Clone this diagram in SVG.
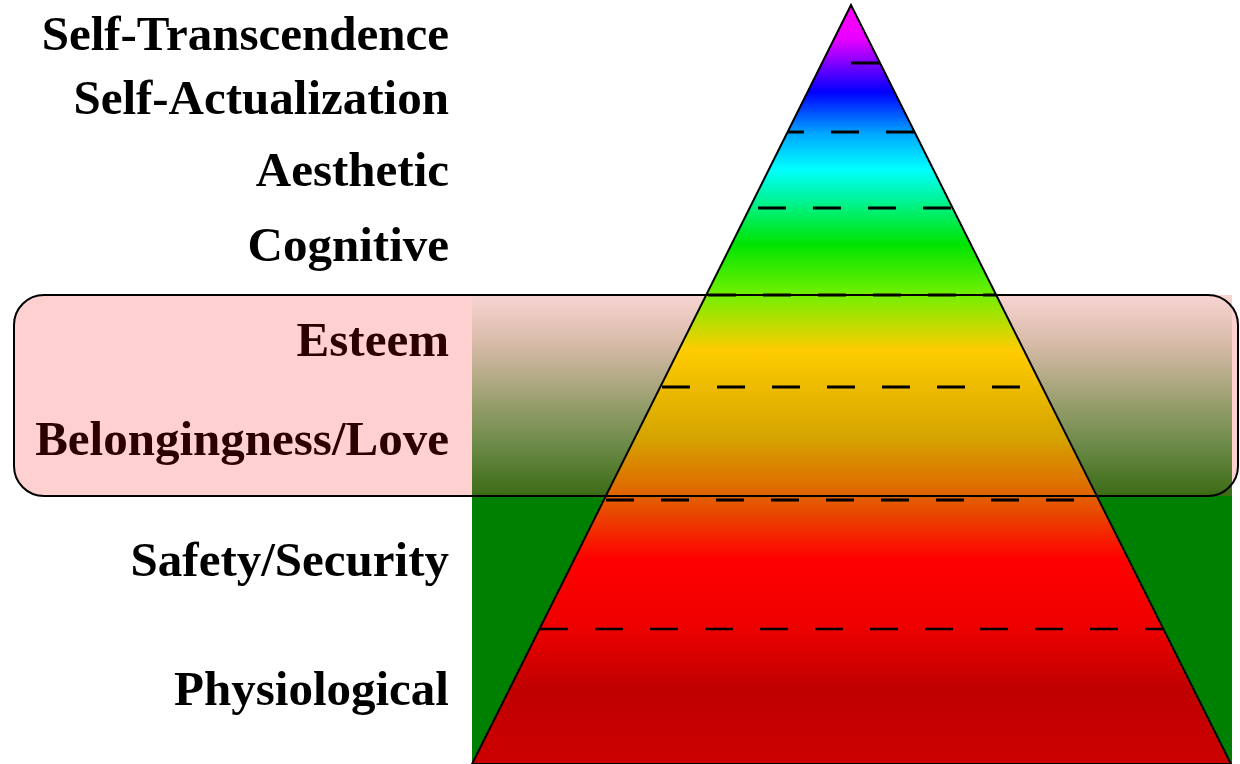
<svg xmlns="http://www.w3.org/2000/svg" width="1240" height="764" viewBox="0 0 1240 764">
  <defs>
    <linearGradient id="pyr" gradientUnits="userSpaceOnUse" x1="0" y1="5" x2="0" y2="764">
      <stop offset="0" stop-color="#FF00FF"/>
      <stop offset="0.045" stop-color="#E800FF"/>
      <stop offset="0.115" stop-color="#0000FF"/>
      <stop offset="0.17" stop-color="#00A8FF"/>
      <stop offset="0.217" stop-color="#00FFFF"/>
      <stop offset="0.315" stop-color="#00E400"/>
      <stop offset="0.38" stop-color="#70F000"/>
      <stop offset="0.455" stop-color="#FFCC00"/>
      <stop offset="0.57" stop-color="#D4A400"/>
      <stop offset="0.645" stop-color="#E06400"/>
      <stop offset="0.73" stop-color="#FF0000"/>
      <stop offset="0.82" stop-color="#EE0000"/>
      <stop offset="0.9" stop-color="#C00000"/>
      <stop offset="1" stop-color="#CC0000"/>
    </linearGradient>
    <linearGradient id="boxgreen" gradientUnits="userSpaceOnUse" x1="0" y1="295" x2="0" y2="495">
      <stop offset="0" stop-color="#F8D4D2"/>
      <stop offset="0.25" stop-color="#D6BAA6"/>
      <stop offset="0.5" stop-color="#A0A274"/>
      <stop offset="0.75" stop-color="#6C8A48"/>
      <stop offset="1" stop-color="#3C6C16"/>
    </linearGradient>
    <clipPath id="pyrclip">
      <polygon points="851,5 472,764 1231,764"/>
    </clipPath>
    <style>
      .lbl { font-family: "Liberation Serif", "Times New Roman", serif; font-weight: bold; font-size: 49px; text-anchor: end; fill: #000; }
      .lbl.in { fill: #2A0000; }
      .dash { stroke: #000; stroke-width: 3; stroke-dasharray: 28 27; fill: none; }
    </style>
  </defs>

  <rect x="0" y="0" width="1240" height="764" fill="#FFFFFF"/>

  <g id="background">
    <rect x="14" y="295" width="1224" height="201" rx="30" ry="30" fill="#FFD0D0"/>
    <rect x="472" y="295" width="760" height="201" fill="url(#boxgreen)"/>
    <rect x="472" y="496" width="760" height="268" fill="#008000"/>
  </g>

  <g id="pyramid">
    <polygon points="851,5 472,764 1231,764" fill="url(#pyr)" stroke="#000" stroke-width="2" stroke-linejoin="miter"/>
  </g>

  <g id="connectors" clip-path="url(#pyrclip)">
    <line x1="851" y1="63" x2="882" y2="63" stroke="#000" stroke-width="3"/>
    <line class="dash" x1="776" y1="132" x2="916" y2="132"/>
    <line class="dash" x1="758" y1="208" x2="954" y2="208"/>
    <line class="dash" x1="708" y1="295" x2="998" y2="295"/>
    <line class="dash" x1="662" y1="387" x2="1044" y2="387"/>
    <line class="dash" x1="606" y1="500" x2="1100" y2="500"/>
    <line class="dash" x1="540" y1="629" x2="1165" y2="629" style="stroke-width:2.5"/>
  </g>

  <g id="highlight-box">
    <rect x="14" y="295" width="1224" height="201" rx="30" ry="30" fill="none" stroke="#000" stroke-width="2"/>
  </g>

  <g id="label-self-transcendence"><text class="lbl" x="449" y="50">Self-Transcendence</text></g>
  <g id="label-self-actualization"><text class="lbl" x="449" y="114">Self-Actualization</text></g>
  <g id="label-aesthetic"><text class="lbl" x="449" y="186">Aesthetic</text></g>
  <g id="label-cognitive"><text class="lbl" x="449" y="261">Cognitive</text></g>
  <g id="label-esteem"><text class="lbl in" x="449" y="356">Esteem</text></g>
  <g id="label-belongingness"><text class="lbl in" x="449" y="455">Belongingness/Love</text></g>
  <g id="label-safety"><text class="lbl" x="449" y="576">Safety/Security</text></g>
  <g id="label-physiological"><text class="lbl" x="449" y="705">Physiological</text></g>
</svg>
